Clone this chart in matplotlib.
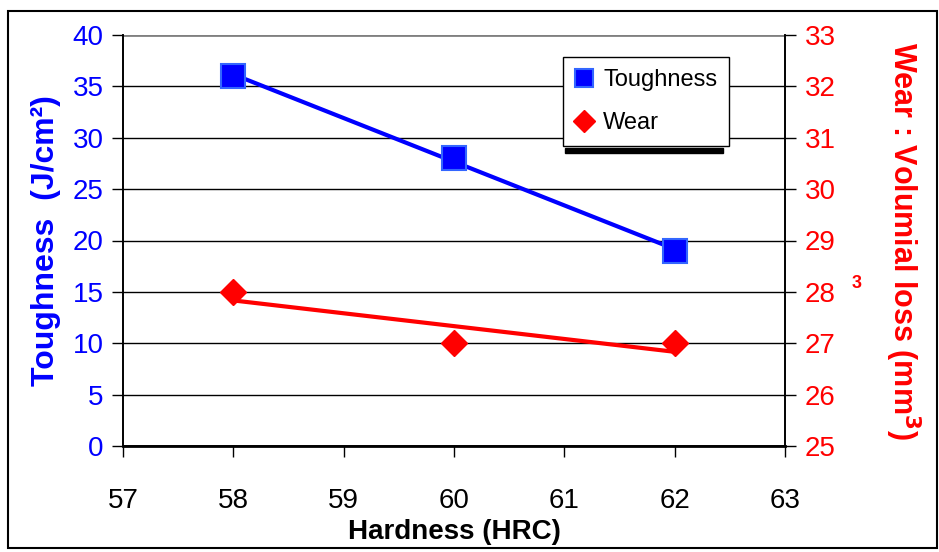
import numpy as np
import matplotlib
matplotlib.use("Agg")
import matplotlib.pyplot as plt
from matplotlib.patches import Rectangle

plt.rcParams['font.family'] = ['Liberation Sans', 'DejaVu Sans']

# data
hardness = [58, 60, 62]
toughness = [36, 28, 19]
wear = [28, 27, 27]

x_ticks = [57, 58, 59, 60, 61, 62, 63]
left_ticks = [0, 5, 10, 15, 20, 25, 30, 35, 40]
right_ticks = [25, 26, 27, 28, 29, 30, 31, 32, 33]

fig = plt.figure(figsize=(9.39, 5.52), dpi=100)
ax = fig.add_axes([123 / 939, 1 - 446 / 552, 662 / 939, 411 / 552])
ax2 = ax.twinx()

# gridlines on left axis
for t in left_ticks[1:-1]:
    ax.axhline(t, color='black', lw=1, zorder=0)
ax.axhline(40, color='#808080', lw=2, zorder=0)

# linear trend lines through the points
xs = np.array(hardness)
pt = np.polyfit(xs, toughness, 1)
pw = np.polyfit(xs, wear, 1)

ax.plot(xs, np.polyval(pt, xs), color='#0000ff', lw=3, zorder=2)
ax.plot(hardness, toughness, ls='none', marker='s', ms=17, mfc='#0000ff',
        mec='#3366ff', mew=1.5, zorder=3, label='Toughness')
ax2.plot(xs, np.polyval(pw, xs), color='#ff0000', lw=3, zorder=2)
ax2.plot(hardness, wear, ls='none', marker='D', ms=13.5, mfc='#ff0000',
         mec='#ff0000', zorder=3, label='Wear')

ax.set_xlim(57, 63)
ax.set_ylim(0, 40)
ax2.set_ylim(25, 33)
ax.set_xticks(x_ticks)
ax.set_yticks(left_ticks)
ax2.set_yticks(right_ticks)

ax.tick_params(axis='x', direction='out', length=8, width=1, labelsize=20,
               pad=22, colors='black')
ax.tick_params(axis='y', direction='out', length=8, width=1, labelsize=20,
               labelcolor='#0000ff', pad=6)
ax2.tick_params(axis='y', direction='out', length=8, width=1, labelsize=20,
                labelcolor='#ff0000', pad=6)

for a in (ax, ax2):
    a.spines['top'].set_visible(False)
    for s in ('left', 'right', 'bottom'):
        a.spines[s].set_color('black')
        a.spines[s].set_linewidth(1.2)
ax.spines['bottom'].set_linewidth(2)

ax.set_xlabel('Hardness (HRC)', fontsize=20, fontweight='bold', labelpad=4)
ax.set_ylabel('Toughness  (J/cm²)', fontsize=23, fontweight='bold',
              color='#0000ff', labelpad=8)
ax2.set_ylabel('Wear : Volumial loss (mm$^\\mathbf{3}$)', fontsize=22,
               fontweight='bold', color='#ff0000', rotation=270, labelpad=63)

h1, l1 = ax.get_legend_handles_labels()
h2, l2 = ax2.get_legend_handles_labels()
leg = ax2.legend(h1 + h2, l1 + l2, loc='upper left', bbox_to_anchor=(0.665, 0.946),
                 borderaxespad=0, fontsize=17, frameon=True, fancybox=False,
                 framealpha=1, edgecolor='black', borderpad=0.5, labelspacing=0.9,
                 handletextpad=0.4, handlelength=0.8, markerscale=0.8)
leg.get_frame().set_linewidth(1)

# legend shadow bar and stray superscript
fig.add_artist(Rectangle((565 / 939, 1 - 153 / 552), 158 / 939, 5 / 552,
                         color='black', transform=fig.transFigure))
fig.text(857 / 939, 1 - 284 / 552, '3', color='#ff0000', fontsize=13,
         fontweight='bold', ha='center', va='center')

# outer frame
fig.add_artist(Rectangle((8 / 939, 4 / 552), 929 / 939, 537 / 552, fill=False,
                         edgecolor='black', lw=1.5, transform=fig.transFigure))

fig.savefig('out.png', dpi=100)
